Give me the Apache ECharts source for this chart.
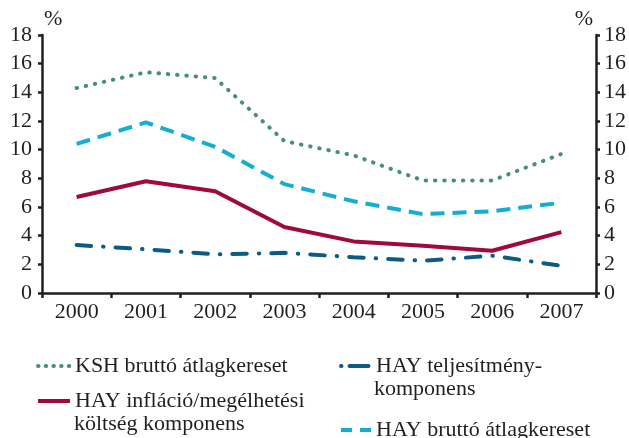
<!DOCTYPE html>
<html>
<head>
<meta charset="utf-8">
<script src="https://cdn.jsdelivr.net/npm/echarts@6/dist/echarts.min.js"></script>
<style>html,body{margin:0;padding:0;background:#fff;}#c{width:629px;height:438px;}</style>
</head>
<body>
<div id="c"></div>
<script>
const categories = ['2000','2001','2002','2003','2004','2005','2006','2007'];
const kshBrutto = [14.3, 15.4, 15.0, 10.6, 9.6, 7.85, 7.85, 9.7];
const hayInflacio = [6.7, 7.8, 7.1, 4.6, 3.6, 3.3, 2.95, 4.25];
const hayTeljesitmeny = [3.35, 3.05, 2.7, 2.8, 2.5, 2.25, 2.6, 1.9];
const hayBrutto = [10.4, 11.9, 10.2, 7.6, 6.4, 5.5, 5.7, 6.3];
const yTicks = [0, 2, 4, 6, 8, 10, 12, 14, 16, 18];

const names = {
  ksh: 'KSH bruttó átlagkereset',
  inf: 'HAY infláció/megélhetési\nköltség komponens',
  telj: 'HAY teljesítmény-\nkomponens',
  hb: 'HAY bruttó átlagkereset'
};
const colors = {ksh:'#4a8f72', inf:'#9e0a3b', telj:'#0d5b85', hb:'#13aed1'};
const styles = {
  ksh: {width:4, type:[0.5, 8.8], cap:'round'},
  inf: {width:4, type:'solid', cap:'butt'},
  telj: {width:4, type:[14.5, 12, 0.5, 12], cap:'round'},
  hb: {width:4, type:[14, 8], cap:'butt'}
};
const legendStyles = {
  ksh: {width:4, type:[0.5, 7.2], cap:'round'},
  inf: {width:4, type:'solid', cap:'butt'},
  telj: {width:4, type:[0.5, 8, 19, 20], cap:'round', dashOffset:-2},
  hb: {width:4, type:[11, 8], cap:'butt'}
};
const FONT = '"Liberation Serif", "DejaVu Serif", serif';
const TXT = '#231f20';

function mkSeries(key, data) {
  return {
    name: names[key], type: 'line', data: data, symbol: 'none',
    yAxisIndex: 0,
    lineStyle: Object.assign({color: colors[key]}, styles[key]),
    itemStyle: {color: colors[key]},
    z: 3, silent: true, animation: false
  };
}
function mkLegend(key, left, top) {
  return {
    data: [names[key]], left: left, top: top, orient: 'vertical',
    itemWidth: 32, itemHeight: 10, itemGap: 0, padding: 0,
    selectedMode: false,
    formatter: n => n.split('\n')[0],
    itemStyle: {opacity: 0, borderWidth: 0},
    lineStyle: Object.assign({color: colors[key]}, legendStyles[key]),
    textStyle: {fontFamily: FONT, fontSize: 22, color: TXT, lineHeight: 24}
  };
}
function secondLine(key, x, yMid) {
  return {
    type: 'text', left: x, top: yMid - 12, silent: true,
    style: {text: names[key].split('\n')[1], fontFamily: FONT, fontSize: 22, fill: TXT, lineHeight: 24}
  };
}

const axisLineStyle = {color: TXT, width: 2.5};
const chart = echarts.init(document.getElementById('c'), null, {renderer: 'canvas'});
chart.setOption({
  animation: false,
  grid: {left: 42, right: 32, top: 35, bottom: 145, containLabel: false},
  xAxis: {
    type: 'category', data: categories, boundaryGap: true,
    axisLine: {show: true, lineStyle: axisLineStyle},
    axisTick: {show: true, inside: false, length: 5, lineStyle: {color: TXT, width: 2.5}},
    axisLabel: {fontFamily: FONT, fontSize: 22, color: TXT, margin: 8},
    splitLine: {show: false}
  },
  yAxis: [{
    type: 'value', min: 0, max: 18, interval: 2, position: 'left',
    name: '%', nameLocation: 'end', nameGap: 16,
    nameTextStyle: {fontFamily: FONT, fontSize: 22, color: TXT, align: 'left', verticalAlign: 'middle', padding: [0,0,0,2]},
    axisLine: {show: true, lineStyle: axisLineStyle},
    axisTick: {show: true, inside: false, length: 4, lineStyle: {color: TXT, width: 2.5}},
    axisLabel: {fontFamily: FONT, fontSize: 22, color: TXT, margin: 10, formatter: v => yTicks.includes(v) ? String(v) : ''},
    splitLine: {show: false}
  }, {
    type: 'value', min: 0, max: 18, interval: 2, position: 'right',
    name: '%', nameLocation: 'end', nameGap: 16,
    nameTextStyle: {fontFamily: FONT, fontSize: 22, color: TXT, align: 'right', verticalAlign: 'middle', padding: [0,3,0,0]},
    axisLine: {show: true, lineStyle: axisLineStyle},
    axisTick: {show: true, inside: false, length: 4, lineStyle: {color: TXT, width: 2.5}},
    axisLabel: {fontFamily: FONT, fontSize: 22, color: TXT, margin: 8, formatter: v => yTicks.includes(v) ? String(v) : ''},
    splitLine: {show: false}
  }],
  legend: [
    mkLegend('ksh', 36, 354),
    mkLegend('inf', 36, 389),
    mkLegend('telj', 337, 354),
    mkLegend('hb', 337, 418)
  ],
  graphic: [
    secondLine('inf', 74, 424.5),
    secondLine('telj', 374, 389.5)
  ],
  series: [
    mkSeries('ksh', kshBrutto),
    mkSeries('inf', hayInflacio),
    mkSeries('telj', hayTeljesitmeny),
    mkSeries('hb', hayBrutto)
  ]
});
</script>
</body>
</html>
